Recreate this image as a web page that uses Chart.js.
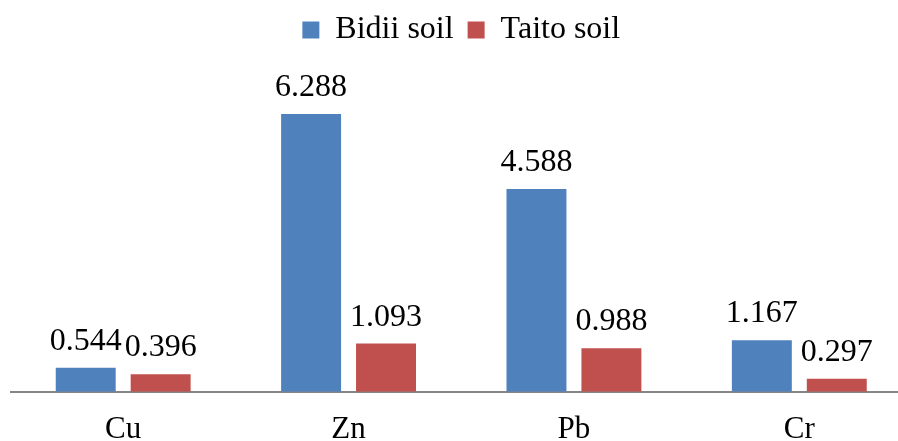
<!DOCTYPE html>
<html>
<head>
<meta charset="utf-8">
<script src="https://cdn.jsdelivr.net/npm/chart.js@4/dist/chart.umd.min.js"></script>
<style>
  html, body { margin: 0; padding: 0; background: #fff; overflow: hidden; }
  #wrap { width: 898px; height: 441px; overflow: hidden; position: relative; }
  #soilChart { position: absolute; left: 0; top: 0; }
</style>
</head>
<body>
<div id="wrap"><canvas id="soilChart" width="912" height="467"></canvas></div>
<script>
const metals = ["Cu", "Zn", "Pb", "Cr"];
const bidiiSoil = [0.544, 6.288, 4.588, 1.167];
const taitoSoil = [0.396, 1.093, 0.988, 0.297];
const yMax = 7;

const serif = "'Liberation Serif', 'Times New Roman', serif";

// numbers drawn above each bar
const valueLabels = {
    id: "valueLabels",
    afterDatasetsDraw(chart) {
        let ctx = chart.ctx;
        ctx.save();
        ctx.font = "32px " + serif;
        ctx.fillStyle = "#000";
        ctx.textAlign = "center";
        ctx.textBaseline = "alphabetic";
        chart.data.datasets.forEach(function(ds, i) {
            chart.getDatasetMeta(i).data.forEach(function(bar, j) {
                ctx.fillText(ds.data[j].toFixed(3), bar.x, bar.y - 18);
            });
        });
        ctx.restore();
    }
};

// extra room under the legend
const legendGap = {
    id: "legendGap",
    beforeInit(chart) {
        let fit = chart.legend.fit;
        chart.legend.fit = function() {
            fit.bind(chart.legend)();
            this.height += 26.5;
        };
    }
};

let ctx = document.getElementById("soilChart").getContext("2d");
let soilChart = new Chart(ctx, {
    type: "bar",
    data: {
        labels: metals,
        datasets: [{
            label: "Bidii soil",
            data: bidiiSoil,
            backgroundColor: "#4F81BD",
            barPercentage: 0.8,
            categoryPercentage: 0.665
        }, {
            label: "Taito soil",
            data: taitoSoil,
            backgroundColor: "#C0504D",
            barPercentage: 0.8,
            categoryPercentage: 0.665
        }]
    },
    options: {
        responsive: false,
        maintainAspectRatio: false,
        animation: false,
        layout: { padding: { left: 10.5, right: 0, top: 0, bottom: 0 } },
        plugins: {
            legend: {
                position: "top",
                labels: {
                    boxWidth: 17,
                    boxHeight: 17,
                    padding: 14,
                    color: "#000",
                    font: { family: serif, size: 32 }
                }
            },
            tooltip: { enabled: false }
        },
        scales: {
            x: {
                grid: { display: false, drawTicks: false },
                border: { display: true, color: "#868686", width: 2 },
                ticks: { color: "#000", padding: 19, font: { family: serif, size: 31 } }
            },
            y: {
                display: false,
                min: 0,
                max: yMax
            }
        }
    },
    plugins: [valueLabels, legendGap]
});
</script>
</body>
</html>
